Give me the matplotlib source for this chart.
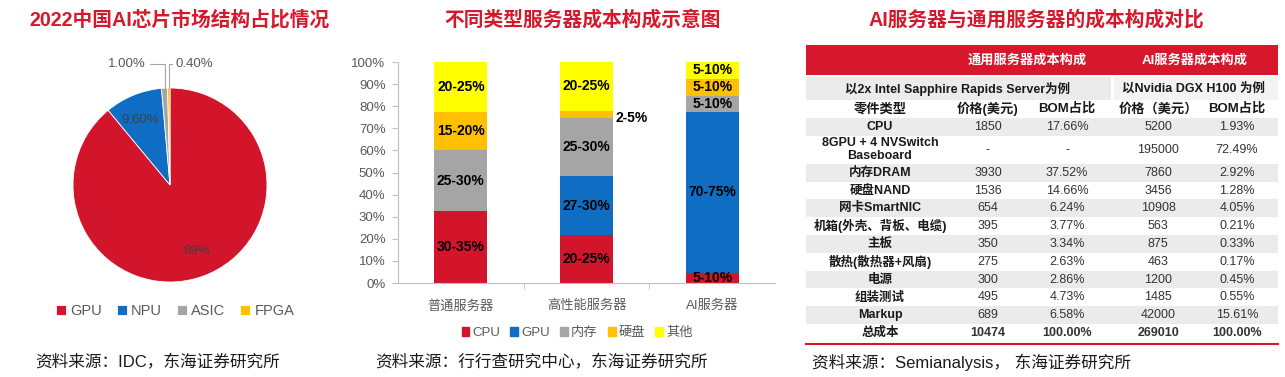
import numpy as np
import matplotlib
matplotlib.use('Agg')
import matplotlib.pyplot as plt
from matplotlib.patches import Rectangle, Patch

plt.rcParams['font.family'] = ['Liberation Sans', 'Noto Sans CJK SC']

RED = '#D2152B'
BLUE = '#0F6EC3'
GRAY = '#A5A5A5'
ORANGE = '#FFC000'
YELLOW = '#FFFF00'
TXT_GRAY = '#595959'

# pie data
chip_types = ['GPU', 'NPU', 'ASIC', 'FPGA']
chip_share = [89.0, 9.6, 1.0, 0.4]
chip_labels = ['89%', '9.60%', '1.00%', '0.40%']

# stacked bar data (% of cost)
servers = ['普通服务器', '高性能服务器', 'AI服务器']
bar_parts = ['CPU', 'GPU', '内存', '硬盘', '其他']
cpu = [32.5, 21.5, 4.5]
gpu = [0, 27.0, 73.0]
mem = [27.5, 26.0, 7.0]
disk = [17.5, 3.5, 8.0]
other = [22.5, 22.0, 7.5]
cpu_lbl = ['30-35%', '20-25%', '5-10%']
gpu_lbl = ['', '27-30%', '70-75%']
mem_lbl = ['25-30%', '25-30%', '5-10%']
disk_lbl = ['15-20%', '2-5%', '5-10%']
other_lbl = ['20-25%', '20-25%', '5-10%']

# table data
parts = ['CPU', '8GPU + 4 NVSwitch\nBaseboard', '内存DRAM', '硬盘NAND', '网卡SmartNIC',
         '机箱(外壳、背板、电缆)', '主板', '散热(散热器+风扇)', '电源', '组装测试', 'Markup', '总成本']
gen_price = ['1850', '-', '3930', '1536', '654', '395', '350', '275', '300', '495', '689', '10474']
gen_bom = ['17.66%', '-', '37.52%', '14.66%', '6.24%', '3.77%', '3.34%', '2.63%', '2.86%',
           '4.73%', '6.58%', '100.00%']
ai_price = ['5200', '195000', '7860', '3456', '10908', '563', '875', '463', '1200', '1485',
            '42000', '269010']
ai_bom = ['1.93%', '72.49%', '2.92%', '1.28%', '4.05%', '0.21%', '0.33%', '0.17%', '0.45%',
          '0.55%', '15.61%', '100.00%']
col_heads = ['零件类型', '价格(美元)', 'BOM占比', '价格（美元）', 'BOM占比']

W, H = 1285, 377
fig = plt.figure(figsize=(W / 100, H / 100), dpi=100)

# overlay axes in pixel coords for titles, sources and the table
ov = fig.add_axes([0, 0, 1, 1])
ov.set_xlim(0, W)
ov.set_ylim(H, 0)
ov.axis('off')

title_kw = dict(color='#D6182D', fontsize=14.2, fontweight='bold', ha='center', va='center')
ov.text(179, 20, '2022中国AI芯片市场结构占比情况', **title_kw)
ov.text(583, 20, '不同类型服务器成本构成示意图', **title_kw)
ov.text(1036, 20, 'AI服务器与通用服务器的成本构成对比', **title_kw)

src_kw = dict(color='#1a1a1a', fontsize=12, ha='left', va='center')
ov.text(35, 362, '资料来源：IDC，东海证券研究所', **src_kw)
ov.text(375, 362, '资料来源：行行查研究中心，东海证券研究所', **src_kw)
ov.text(812, 362, '资料来源：Semianalysis， 东海证券研究所', **src_kw)

# ---- pie ----
cx, cy, r = 170, 185, 97
ax_pie = fig.add_axes([(cx - r) / W, (H - cy - r) / H, 2 * r / W, 2 * r / H])
wedges, _ = ax_pie.pie(chip_share, colors=[RED, BLUE, GRAY, ORANGE], startangle=90,
                       counterclock=False, wedgeprops=dict(edgecolor='white', linewidth=0.6))
ax_pie.set_xlim(-1, 1)
ax_pie.set_ylim(-1, 1)
for i, w in enumerate(wedges):
    ang = np.deg2rad((w.theta1 + w.theta2) / 2)
    if chip_share[i] > 5:
        ax_pie.text(0.8 * np.cos(ang), 0.72 * np.sin(ang), chip_labels[i], color='#404040',
                    fontsize=9.5, ha='center', va='center')
    else:
        px, py = np.cos(ang), np.sin(ang)
        if i == 2:
            tx, ha = -0.25, 'right'
        else:
            tx, ha = 0.06, 'left'
        ax_pie.annotate(chip_labels[i], xy=(px, py), xytext=(tx, 1.25), color=TXT_GRAY,
                        fontsize=9.5, ha=ha, va='center', annotation_clip=False,
                        arrowprops=dict(arrowstyle='-', color='#A6A6A6', lw=0.8,
                                        shrinkA=1, shrinkB=0,
                                        connectionstyle='angle,angleA=0,angleB=90,rad=0'))

fig.legend(wedges, chip_types, loc='center', bbox_to_anchor=(175 / W, 1 - 311 / H),
           ncol=4, frameon=False, fontsize=10.5, handlelength=0.7, handleheight=0.7,
           handletextpad=0.3, columnspacing=1.0, labelcolor=TXT_GRAY)

# ---- stacked bars ----
ax = fig.add_axes([398 / W, (H - 283) / H, 377 / W, 221 / H])
x = np.arange(len(servers))
series = [cpu, gpu, mem, disk, other]
labels = [cpu_lbl, gpu_lbl, mem_lbl, disk_lbl, other_lbl]
colors = [RED, BLUE, GRAY, ORANGE, YELLOW]
bw = 0.42
bottom = np.zeros(len(servers))
handles = []
for vals, lbls, c, name in zip(series, labels, colors, bar_parts):
    vals = np.array(vals)
    ax.bar(x, vals, bw, bottom=bottom, color=c, label=name)
    handles.append(Patch(color=c))
    for xi, v, b, t in zip(x, vals, bottom, lbls):
        if not t:
            continue
        if v < 4:
            # too thin: label to the right of the bar
            ax.text(xi + bw / 2 + 0.02, b + v / 2 - 1.5, t, ha='left', va='center',
                    fontsize=10, fontweight='bold', color='black')
        else:
            ax.text(xi, b + v / 2, t, ha='center', va='center', fontsize=10,
                    fontweight='bold', color='black')
    bottom = bottom + vals

ax.set_xlim(-0.5, 2.5)
ax.set_ylim(0, 100)
ax.set_yticks(np.arange(0, 101, 10))
ax.set_yticklabels([f'{v}%' for v in range(0, 101, 10)])
ax.set_xticks(x)
ax.set_xticklabels(servers)
ax.set_xticks([0.5, 1.5], minor=True)
ax.tick_params(axis='x', which='major', length=0, pad=12, labelsize=9.5, labelcolor=TXT_GRAY)
ax.tick_params(axis='x', which='minor', length=4, color='#BFBFBF', direction='out')
ax.tick_params(axis='y', length=4, color='#BFBFBF', pad=5, labelsize=9.5, labelcolor=TXT_GRAY)
for s in ['top', 'right']:
    ax.spines[s].set_visible(False)
for s in ['left', 'bottom']:
    ax.spines[s].set_color('#BFBFBF')
ax.patch.set_alpha(0)

fig.legend(handles, bar_parts, loc='center', bbox_to_anchor=(577 / W, 1 - 333 / H),
           ncol=5, frameon=False, fontsize=9.5, handlelength=0.6, handleheight=0.6,
           handletextpad=0.2, columnspacing=0.8, labelcolor=TXT_GRAY)

# ---- table ----
L, R = 806, 1278
col_x = [880, 988, 1067, 1158, 1237]
band_gray = '#EBEBEB'
ov.add_patch(Rectangle((L, 45), R - L, 30, color='#D7172B', lw=0))
ov.text(1027, 60, '通用服务器成本构成', color='white', fontsize=9.5, fontweight='bold',
        ha='center', va='center')
ov.text(1195, 60, 'AI服务器成本构成', color='white', fontsize=9.5, fontweight='bold',
        ha='center', va='center')
ov.add_patch(Rectangle((L, 77), 1111 - L, 23, color=band_gray, lw=0))
ov.add_patch(Rectangle((1114, 77), R - 1114, 23, color='#F3F3F3', lw=0))
ov.text(958, 88.5, '以2x Intel Sapphire Rapids Server为例', fontsize=9, fontweight='bold',
        ha='center', va='center', color='#1a1a1a')
ov.text(1194, 88.5, '以Nvidia DGX H100 为例', fontsize=9, fontweight='bold',
        ha='center', va='center', color='#1a1a1a')
for cxp, t in zip(col_x, col_heads):
    ov.text(cxp, 109, t, fontsize=9.5, fontweight='bold', ha='center', va='center',
            color='#1a1a1a')

y0 = 118
for i, p in enumerate(parts):
    h = 28 if '\n' in p else 17.8
    if i % 2 == 0:
        ov.add_patch(Rectangle((L, y0), R - L, h, color=band_gray, lw=0))
    yc = y0 + h / 2
    last = i == len(parts) - 1
    ov.text(col_x[0], yc, p, fontsize=9, fontweight='bold', ha='center', va='center',
            color='#1a1a1a', linespacing=1.15)
    for cxp, v in zip(col_x[1:], [gen_price[i], gen_bom[i], ai_price[i], ai_bom[i]]):
        ov.text(cxp, yc, v, fontsize=9, ha='center', va='center', color='#333333',
                fontweight='bold' if last else 'normal')
    y0 += h
ov.plot([L, R], [y0 + 2, y0 + 2], color='#D7172B', lw=1.5)

fig.savefig('out.png', dpi=100)
